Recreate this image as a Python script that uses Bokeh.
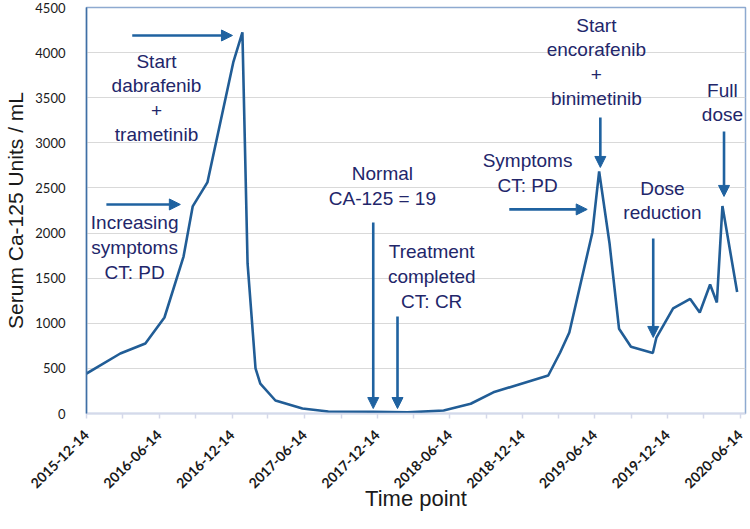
from datetime import datetime
from math import pi
from bokeh.plotting import figure
from bokeh.models import (ColumnDataSource, Range1d, FixedTicker, DatetimeTickFormatter,
                          Arrow, NormalHead)
from bokeh.embed import file_html
from bokeh.resources import INLINE
from bokeh.core.properties import value


def ms(s):
    d = datetime.strptime(s, "%Y-%m-%d")
    return (d - datetime(1970, 1, 1)).total_seconds() * 1000.0


# ---- data -------------------------------------------------------------
dates = ["2015-12-14", "2016-03-08", "2016-05-10", "2016-06-27", "2016-08-14",
         "2016-09-06", "2016-10-13", "2016-12-17", "2017-01-09", "2017-01-22",
         "2017-02-11", "2017-02-23", "2017-04-02", "2017-06-09", "2017-08-13",
         "2017-12-04", "2018-02-28", "2018-05-30", "2018-08-06", "2018-10-02",
         "2019-02-17", "2019-03-19", "2019-04-11", "2019-06-08", "2019-06-25",
         "2019-07-21", "2019-08-14", "2019-09-13", "2019-11-07", "2019-11-16",
         "2019-12-28", "2020-02-09", "2020-03-04", "2020-03-30", "2020-04-16",
         "2020-04-30", "2020-06-06"]
ca125 = [443, 665, 776, 1064, 1740,
         2295, 2561, 3891, 4224, 1663,
         499, 332, 144, 55, 22,
         19, 12, 33, 108, 235,
         421, 676, 898, 2007, 2683,
         1890, 940, 740, 670, 842,
         1165, 1270, 1120, 1430, 1230,
         2300, 1347]

tick_dates = ["2015-12-14", "2016-06-14", "2016-12-14", "2017-06-14", "2017-12-14",
              "2018-06-14", "2018-12-14", "2019-06-14", "2019-12-14", "2020-06-14"]
minor_dates = ["2016-03-14", "2016-09-14", "2017-03-14", "2017-09-14", "2018-03-14",
               "2018-09-14", "2019-03-14", "2019-09-14", "2020-03-14"]
y_ticks = [0, 500, 1000, 1500, 2000, 2500, 3000, 3500, 4000, 4500]

note_text = ["Start\ndabrafenib\n+\ntrametinib",
             "Increasing\nsymptoms\nCT: PD",
             "Normal\nCA-125 = 19",
             "Treatment\ncompleted\nCT: CR",
             "Symptoms\nCT: PD",
             "Start\nencorafenib\n+\nbinimetinib",
             "Dose\nreduction",
             "Full\ndose"]
note_date = ["2016-06-07", "2016-04-13", "2017-12-27", "2018-04-30",
             "2018-12-27", "2019-06-18", "2019-12-01", "2020-04-30"]
note_value = [3498, 1840, 2522, 1519, 2666, 3897, 2361, 3448]

arrow_date0 = ["2016-04-07", "2016-02-02", "2017-12-04", "2018-02-03",
               "2018-11-11", "2019-06-28", "2019-11-08", "2020-05-04"]
arrow_value0 = [4190, 2317, 2118, 1075, 2262, 3282, 1940, 3126]
arrow_date1 = ["2016-12-15", "2016-08-06", "2017-12-04", "2018-02-03",
               "2019-05-26", "2019-06-28", "2019-11-08", "2020-05-04"]
arrow_value1 = [4190, 2317, 55, 55, 2262, 2727, 843, 2406]

# ---- styles -----------------------------------------------------------
LINE_C = "#215d96"
ARROW_C = "#1f62a0"
TEXT_C = "#22266a"

p = figure(width=750, height=529, x_axis_type="datetime",
           output_backend="svg", toolbar_location=None,
           x_range=Range1d(ms("2015-12-14"), ms("2020-06-27")),
           y_range=Range1d(0, 4500),
           min_border_left=86, min_border_right=5,
           min_border_top=7, min_border_bottom=116)

p.background_fill_color = "white"
p.border_fill_color = "white"
p.outline_line_color = "#8eaad0"
p.outline_line_width = 1.5

p.xgrid.grid_line_color = None
p.ygrid.grid_line_color = "#d9d9d9"
p.ygrid.grid_line_width = 1

src = ColumnDataSource(dict(x=[ms(d) for d in dates], y=ca125))
p.line("x", "y", source=src, line_width=2.6, line_color=LINE_C)

# y axis
p.yaxis.ticker = FixedTicker(ticks=y_ticks)
p.yaxis.major_tick_line_color = None
p.yaxis.minor_tick_line_color = None
p.yaxis.axis_line_color = "#3f6fa5"
p.yaxis.axis_line_width = 1.5
p.yaxis.major_label_text_font = "Lato"
p.yaxis.major_label_text_font_size = "13px"
p.yaxis.major_label_text_color = "#1a1a1a"
p.yaxis.major_label_standoff = 15
p.yaxis.axis_label = "Serum Ca-125 Units / mL"
p.yaxis.axis_label_text_font = "Liberation Sans"
p.yaxis.axis_label_text_font_size = "21px"
p.yaxis.axis_label_text_font_style = "normal"
p.yaxis.axis_label_text_color = "#1a1a1a"
p.yaxis.axis_label_standoff = 5

# x axis
p.xaxis.ticker = FixedTicker(ticks=[ms(d) for d in tick_dates],
                             minor_ticks=[ms(d) for d in minor_dates])
fmt = "%Y-%m-%d"
p.xaxis.formatter = DatetimeTickFormatter(
    milliseconds=fmt, seconds=fmt, minsec=fmt, minutes=fmt, hourmin=fmt,
    hours=fmt, days=fmt, months=fmt, years=fmt)
p.xaxis.major_label_orientation = pi / 4
p.xaxis.major_label_text_font = "Lato"
p.xaxis.major_label_text_font_style = "bold"
p.xaxis.major_label_text_font_size = "14px"
p.xaxis.major_label_text_color = "#1a1a1a"
p.xaxis.major_label_standoff = 14
p.xaxis.axis_line_color = "#d5d9ea"
p.xaxis.axis_line_width = 1.5
p.xaxis.major_tick_line_color = "#d5d9ea"
p.xaxis.minor_tick_line_color = "#d5d9ea"
p.xaxis.major_tick_in = 0
p.xaxis.major_tick_out = 5
p.xaxis.minor_tick_in = 0
p.xaxis.minor_tick_out = 5
p.xaxis.major_tick_line_width = 1.5
p.xaxis.minor_tick_line_width = 1.5
p.xaxis.axis_label = "Time point"
p.xaxis.axis_label_text_font = "Liberation Sans"
p.xaxis.axis_label_text_font_size = "22px"
p.xaxis.axis_label_text_font_style = "normal"
p.xaxis.axis_label_text_color = "#1a1a1a"
p.xaxis.axis_label_standoff = -10

# annotations
nsrc = ColumnDataSource(dict(x=[ms(d) for d in note_date], y=note_value, t=note_text))
p.text("x", "y", text="t", source=nsrc, text_align="center", text_baseline="middle",
       text_font=value("Liberation Sans"), text_font_size="19px",
       text_color=TEXT_C, text_line_height=1.17)

asrc = ColumnDataSource(dict(x0=[ms(d) for d in arrow_date0], y0=arrow_value0,
                             x1=[ms(d) for d in arrow_date1], y1=arrow_value1))
p.add_layout(Arrow(end=NormalHead(size=11, fill_color=ARROW_C, line_color=ARROW_C),
                   source=asrc, x_start="x0", y_start="y0", x_end="x1", y_end="y1",
                   line_color=ARROW_C, line_width=2.6))

open("out.html", "w").write(file_html(p, INLINE))
